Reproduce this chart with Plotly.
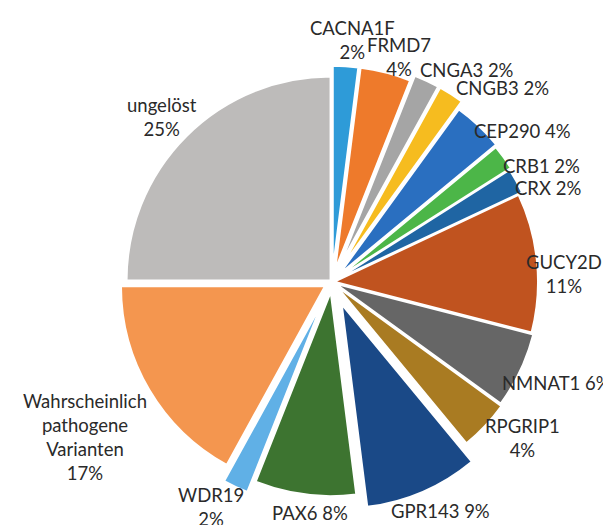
import plotly.graph_objects as go

OFF = 8  # the page body margin shifts the figure by this many pixels
W, H = 611 - OFF, 525 - OFF

categories = ["CACNA1F", "FRMD7", "CNGA3", "CNGB3", "CEP290", "CRB1", "CRX",
              "GUCY2D", "NMNAT1", "RPGRIP1", "GPR143", "PAX6", "WDR19",
              "Wahrscheinlich pathogene Varianten", "ungelöst"]
percent = [2, 4, 2, 2, 4, 2, 2, 11, 6, 4, 9, 8, 2, 17, 25]

colors = ["#2E9BD8", "#EE7A2B", "#A5A5A5", "#F6BC1F", "#2A6FC0", "#4CB648",
          "#1F65A3", "#C0531F", "#666666", "#A97B22", "#1A4987", "#3D7430",
          "#60B0E6", "#F4964F", "#BDBBBA"]
pulls = [0.06, 0.06, 0.09, 0.09, 0.05, 0.04, 0.03, 0.01, 0.02, 0.03, 0.12,
         0.05, 0.11, 0.04, 0.01]

# label layout: separator between name and value, and pixel centre of the text block
label_sep = ["<br>", "<br>", " ", " ", " ", " ", " ", "<br>", " ", "<br>", " ",
             " ", "<br>", "<br>", "<br>"]
label_px = [(352, 40), (399, 57), (467, 70), (502, 88), (522, 131), (541, 166),
            (548, 188), (564, 274), (556, 383), (522, 438), (440, 511),
            (310, 513), (211, 507), (85, 437), (162, 117)]

cx, cy, R, maxpull = 332 - OFF, 282 - OFF, 204, max(pulls)
half = R * (1 + maxpull)

fig = go.Figure(go.Pie(
    labels=categories, values=percent, sort=False, direction="clockwise",
    rotation=0, pull=pulls, textinfo="none", hoverinfo="label+percent",
    marker=dict(colors=colors, line=dict(color="white", width=2)),
    domain=dict(x=[(cx - half) / W, (cx + half) / W],
                y=[1 - (cy + half) / H, 1 - (cy - half) / H]),
    showlegend=False,
))

for name, v, sep, (px, py) in zip(categories, percent, label_sep, label_px):
    text = (name.replace(" ", "<br>") if sep == "<br>" else name) + sep + f"{v}%"
    fig.add_annotation(x=(px - OFF) / W, y=1 - (py - OFF) / H, xref="paper", yref="paper",
                       text=text, showarrow=False, xanchor="center", yanchor="middle",
                       font=dict(family="Lato, Open Sans, sans-serif", size=18.5, color="#2a2a2a"))

fig.update_layout(width=W, height=H, margin=dict(l=0, r=0, t=0, b=0),
                  paper_bgcolor="white", plot_bgcolor="white")
fig.write_html("out.html")
